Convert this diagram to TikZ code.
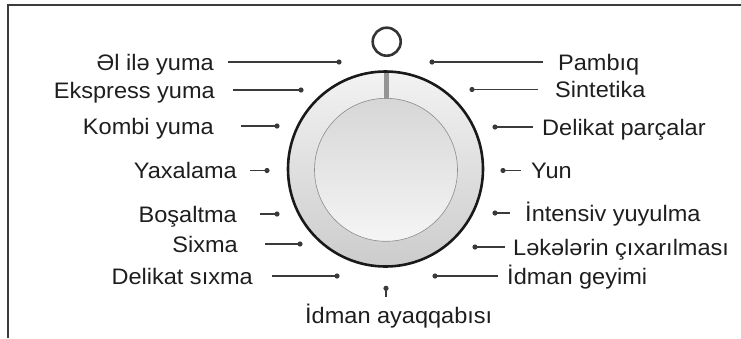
\documentclass[tikz,border=0pt]{standalone}
\usepackage{fontspec}
\setmainfont{Liberation Sans}[FakeStretch=1.05]
\definecolor{ink}{HTML}{1E1E1E}
\definecolor{linec}{HTML}{3A3A3A}
\definecolor{framec}{HTML}{3C3C3C}
\begin{document}
\begin{tikzpicture}[x=1bp,y=-1bp,
  lbl/.style={inner sep=0pt,text=ink,font=\fontsize{22.5}{26}\selectfont},
  dotn/.style={circle,fill=linec,inner sep=0pt,minimum size=5.2bp},
  conn/.style={draw=linec,line width=1.1bp}]
\useasboundingbox (0,0) rectangle (741,338);
% frame
\draw[framec,line width=2bp] (7.5,338) -- (7.5,4.8) -- (741,4.8);
% knob
\node[circle,draw=black!90,line width=2.6bp,top color=white!95!black,bottom color=white!80!black,minimum size=195bp,inner sep=0pt] (knob) at (385.5,169) {};
\node[circle,draw=black!45,line width=0.6bp,top color=white!84!black,bottom color=white!96!black,minimum size=143bp,inner sep=0pt] (inner) at (386,169.8) {};
\fill[black!42] (383.5,72.5) rectangle (388.8,98.5);
% top O
\node[circle,draw=black!80,line width=2.6bp,minimum size=28bp,inner sep=0pt] (mark) at (386.7,41.7) {};
% left labels
\foreach \n/\dx/\sx/\tx/\y/\t in {
  a/339/228/214/62/{Əl ilə yuma},
  b/301/233/215/90/{Ekspress yuma},
  c/277/241/214/126/{Kombi yuma},
  d/267/250/237/170.5/{Yaxalama},
  e/277/260/237/214/{Boşaltma},
  f/300/265/238/244/{Sixma},
  g/337/272/253/276/{Delikat sıxma}}{
  \node[dotn] (d\n) at (\dx,\y) {};
  \coordinate (s\n) at (\sx,\y);
  \node[lbl,anchor=base east] (t\n) at (\tx,\y+8) {\t};
  \draw[conn] (s\n) -- (d\n.center);
}
% right labels
\foreach \n/\dx/\sx/\tx/\y/\t in {
  h/432/543/558/62/{Pambıq},
  i/472/538/555/89.5/{Sintetika},
  j/495/533/542/127/{Delikat parçalar},
  k/503/521/531/170.5/{Yun},
  l/495/510/525/213/{İntensiv yuyulma},
  m/475/505/513/247/{Ləkələrin çıxarılması},
  n/435/498/507/276/{İdman geyimi}}{
  \node[dotn] (d\n) at (\dx,\y) {};
  \coordinate (s\n) at (\sx,\y);
  \node[lbl,anchor=base west] (t\n) at (\tx,\y+8) {\t};
  \draw[conn] (s\n) -- (d\n.center);
}
% bottom
\node[dotn] (dz) at (386,288.3) {};
\coordinate (sz) at (386,296.5);
\node[lbl,anchor=base west] (tz) at (305,323) {İdman ayaqqabısı};
\draw[conn] (sz) -- (dz.center);
\end{tikzpicture}
\end{document}
